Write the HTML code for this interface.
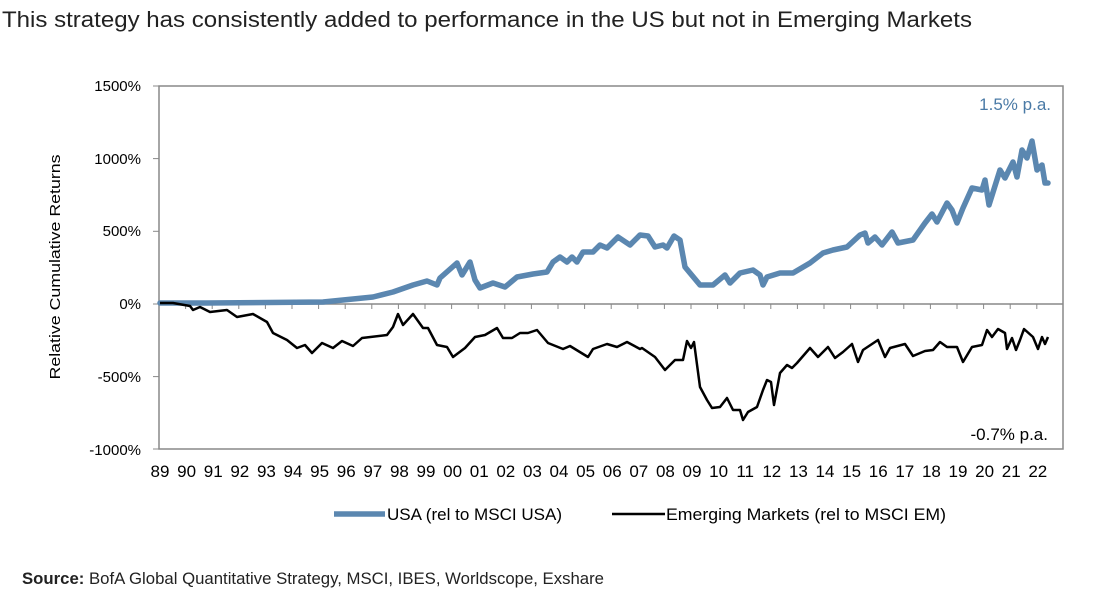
<!DOCTYPE html>
<html><head><meta charset="utf-8"><style>
body{margin:0;background:#fff;width:1114px;height:601px;overflow:hidden}
svg{display:block}
text{font-family:"Liberation Sans",Arial,sans-serif}
</style></head><body>
<svg width="1114" height="601" viewBox="0 0 1114 601">
<text x="2" y="27" font-size="22" fill="#222" textLength="970" lengthAdjust="spacingAndGlyphs">This strategy has consistently added to performance in the US but not in Emerging Markets</text>
<rect x="159" y="86" width="904" height="363" fill="none" stroke="#888" stroke-width="1.5"/>
<line x1="159" y1="304" x2="1063" y2="304" stroke="#888" stroke-width="1.5"/>
<g stroke="#888" stroke-width="1">
<line x1="153" y1="86" x2="159" y2="86"/><line x1="153" y1="158.6" x2="159" y2="158.6"/><line x1="153" y1="231.3" x2="159" y2="231.3"/><line x1="153" y1="304" x2="159" y2="304"/><line x1="153" y1="376.6" x2="159" y2="376.6"/><line x1="153" y1="449" x2="159" y2="449"/>
</g>
<g id="ticks" stroke="#888" stroke-width="1"></g>
<g font-size="15" fill="#000" text-anchor="end">
<text x="141" y="91">1500%</text><text x="141" y="164">1000%</text><text x="141" y="236">500%</text><text x="141" y="309">0%</text><text x="141" y="382">-500%</text><text x="141" y="455">-1000%</text>
</g>
<text transform="translate(60,267) rotate(-90)" font-size="15" text-anchor="middle" textLength="225" lengthAdjust="spacingAndGlyphs">Relative Cumulative Returns</text>
<g id="xl" font-size="17" text-anchor="middle"></g>
<polyline fill="none" stroke="#5b87b0" stroke-width="5.5" stroke-linejoin="round" stroke-linecap="round" points="160,303 207,303 323,302 373,297 393,292 413,285 427,281 437,285 440,278 457,263 462,275 470,262 475,280 480,288 493,283 505,287 517,277 533,274 547,272 553,262 560,257 567,262 572,257 577,262 583,252 593,252 600,245 607,248 618,237 630,245 640,235 648,236 655,247 663,245 667,248 674,236 680,240 685,267 690,273 700,285 713,285 725,275 730,283 740,273 753,270 760,275 763,285 767,277 780,273 793,273 810,263 823,253 833,250 847,247 860,235 865,233 868,243 875,237 882,245 892,232 898,243 913,240 925,223 932,214 937,222 947,203 952,210 957,223 963,208 972,188 982,190 985,180 989,205 1000,170 1005,178 1013,162 1017,177 1022,150 1027,158 1032,141 1037,170 1042,165 1045,183 1048,183"/>
<polyline fill="none" stroke="#000" stroke-width="2.5" stroke-linejoin="round" points="160,303 173,303 190,306 193,310 200,307 210,312 227,310 237,317 253,314 267,322 273,333 287,340 297,348 305,345 312,353 322,343 333,348 342,341 353,346 362,338 387,335 393,327 398,314 403,325 413,314 423,328 428,328 437,345 447,347 453,357 465,348 475,337 485,335 497,328 503,338 512,338 520,333 528,333 537,330 548,343 563,349 570,346 588,357 593,349 607,344 617,347 627,342 640,349 642,348 655,357 665,370 675,360 683,360 687,341 691,348 694,342 700,387 707,400 712,408 720,407 727,398 733,410 740,410 743,420 748,412 757,407 763,390 767,380 771,382 774,405 780,373 787,365 792,368 797,363 810,348 818,357 828,347 835,358 843,352 852,344 858,362 863,350 878,340 885,357 890,348 905,344 913,356 925,351 933,350 940,342 947,347 957,347 963,362 972,347 982,345 987,330 992,337 998,329 1005,333 1007,349 1012,338 1016,350 1020,340 1024,329 1033,337 1038,349 1042,337 1045,344 1048,337"/>
<text x="1051" y="110" font-size="17" fill="#4a7aa6" text-anchor="end">1.5% p.a.</text>
<text x="1048" y="440" font-size="17" fill="#000" text-anchor="end">-0.7% p.a.</text>
<line x1="334" y1="514" x2="385" y2="514" stroke="#5b87b0" stroke-width="5.5"/>
<text x="387" y="520" font-size="17" textLength="175" lengthAdjust="spacingAndGlyphs">USA (rel to MSCI USA)</text>
<line x1="612" y1="514" x2="665" y2="514" stroke="#000" stroke-width="2.5"/>
<text x="666" y="520" font-size="17" textLength="280" lengthAdjust="spacingAndGlyphs">Emerging Markets (rel to MSCI EM)</text>
<text x="22" y="584" font-size="17" fill="#222" textLength="582" lengthAdjust="spacingAndGlyphs"><tspan font-weight="bold">Source:</tspan> BofA Global Quantitative Strategy, MSCI, IBES, Worldscope, Exshare</text>
</svg>
<script>
var t=document.getElementById('ticks'),xl=document.getElementById('xl'),ns='http://www.w3.org/2000/svg';
for(var i=0;i<34;i++){var x=159+i*26.6;
var l=document.createElementNS(ns,'line');l.setAttribute('x1',x);l.setAttribute('x2',x);l.setAttribute('y1',304);l.setAttribute('y2',309);t.appendChild(l);
var y=(89+i)%100;var s=document.createElementNS(ns,'text');s.setAttribute('x',x+1);s.setAttribute('y',477);s.textContent=(y<10?'0':'')+y;xl.appendChild(s);}
</script>
</body></html>
